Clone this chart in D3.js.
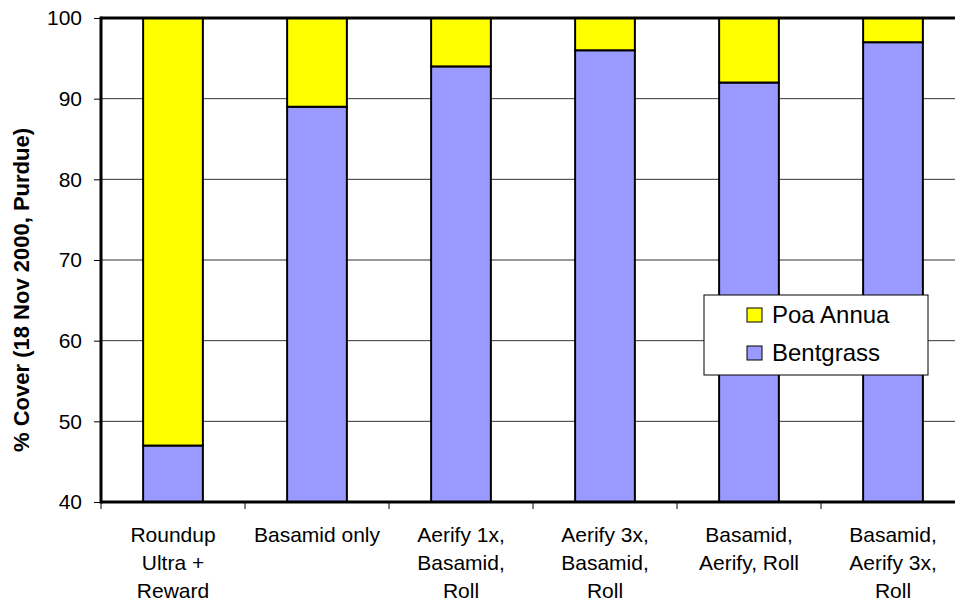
<!DOCTYPE html>
<html>
<head>
<meta charset="utf-8">
<script src="https://cdn.jsdelivr.net/npm/d3@7"></script>
<style>
  html, body { margin: 0; padding: 0; background: #fff; }
  svg { display: block; font-family: Arial, "Liberation Sans", sans-serif; }
</style>
</head>
<body>
<svg id="chart" width="955" height="603"></svg>
<script>
// Treatments and % cover by species
const categories = [
  ["Roundup", "Ultra +", "Reward"],
  ["Basamid only"],
  ["Aerify 1x,", "Basamid,", "Roll"],
  ["Aerify 3x,", "Basamid,", "Roll"],
  ["Basamid,", "Aerify, Roll"],
  ["Basamid,", "Aerify 3x,", "Roll"]
];
const bentgrass = [47, 89, 94, 96, 92, 97];
const poaAnnua = [53, 11, 6, 4, 8, 3];
const yTicks = [40, 50, 60, 70, 80, 90, 100];

const seriesNames = ["Bentgrass", "Poa Annua"];
const colors = { "Bentgrass": "#9999ff", "Poa Annua": "#ffff00" };

const svg = d3.select("#chart");
const margin = { left: 101, top: 18, right: -10, bottom: 101 };
const W = 955, H = 603;
const x0 = margin.left, x1 = W - margin.right;
const y0 = H - margin.bottom, y1 = margin.top;

const x = d3.scaleBand().domain(d3.range(categories.length)).range([x0, x1]).paddingInner(0).paddingOuter(0);
const y = d3.scaleLinear().domain([40, 100]).range([y0, y1]);

// Gridlines
svg.append("g").selectAll("line").data(yTicks.filter(t => t > 40 && t < 100)).join("line")
  .attr("x1", x0).attr("x2", x1)
  .attr("y1", d => y(d)).attr("y2", d => y(d))
  .attr("stroke", "#333").attr("stroke-width", 1);

// Stacked bars
const rows = categories.map((c, i) => ({ i, "Bentgrass": bentgrass[i], "Poa Annua": poaAnnua[i] }));
const stacked = d3.stack().keys(seriesNames)(rows);
const barW = x.bandwidth() * 0.415;

svg.append("g").selectAll("g").data(stacked).join("g")
  .attr("fill", d => colors[d.key])
  .selectAll("rect").data(d => d).join("rect")
  .attr("x", d => x(d.data.i) + (x.bandwidth() - barW) / 2)
  .attr("width", barW)
  .attr("y", d => y(Math.min(d[1], 100)))
  .attr("height", d => y(Math.max(d[0], 40)) - y(Math.min(d[1], 100)))
  .attr("stroke", "#000").attr("stroke-width", 2);

// Plot frame (top and bottom edges, left axis)
svg.append("line").attr("x1", x0).attr("x2", x1).attr("y1", y1).attr("y2", y1)
  .attr("stroke", "#000").attr("stroke-width", 3);
svg.append("line").attr("x1", x0).attr("x2", x1).attr("y1", y0).attr("y2", y0)
  .attr("stroke", "#000").attr("stroke-width", 3);
svg.append("line").attr("x1", x0).attr("x2", x0).attr("y1", y1 - 1.5).attr("y2", y0 + 1.5)
  .attr("stroke", "#000").attr("stroke-width", 3);

// Y axis
const yAxis = svg.append("g").attr("transform", `translate(${x0},0)`)
  .call(d3.axisLeft(y).tickValues(yTicks).tickSize(7).tickPadding(12).tickFormat(d3.format("d")));
yAxis.select(".domain").remove();
yAxis.selectAll("line").attr("stroke", "#000");
yAxis.selectAll("text").attr("font-size", 21).attr("fill", "#000")
  .attr("font-family", "Arial, 'Liberation Sans', sans-serif");

// X axis ticks at band boundaries
svg.append("g").selectAll("line").data(d3.range(categories.length + 1)).join("line")
  .attr("x1", d => x0 + d * x.step()).attr("x2", d => x0 + d * x.step())
  .attr("y1", y0).attr("y2", y0 + 7)
  .attr("stroke", "#000").attr("stroke-width", 1);

// X category labels
const xl = svg.append("g").selectAll("text").data(categories).join("text")
  .attr("x", (d, i) => x(i) + x.bandwidth() / 2)
  .attr("y", 542)
  .attr("text-anchor", "middle")
  .attr("font-size", 21).attr("fill", "#000");
xl.selectAll("tspan").data(d => d).join("tspan")
  .attr("x", function() { return this.parentNode.getAttribute("x"); })
  .attr("dy", (d, i) => i === 0 ? 0 : 28)
  .text(d => d);

// Y axis title
svg.append("text")
  .attr("transform", "translate(29,290) rotate(-90)")
  .attr("text-anchor", "middle")
  .attr("font-size", 22).attr("font-weight", "bold")
  .text("% Cover (18 Nov 2000, Purdue)");

// Legend
const lg = svg.append("g").attr("transform", "translate(704,295)");
lg.append("rect").attr("width", 224).attr("height", 80)
  .attr("fill", "#fff").attr("stroke", "#000").attr("stroke-width", 1);
const legendItems = ["Poa Annua", "Bentgrass"];
legendItems.forEach((k, i) => {
  const g = lg.append("g").attr("transform", `translate(43,${13 + i * 38})`);
  g.append("rect").attr("width", 15).attr("height", 14)
    .attr("fill", colors[k]).attr("stroke", "#000").attr("stroke-width", 1);
  g.append("text").attr("x", 25).attr("y", 7).attr("dy", "0.35em")
    .attr("font-size", 24).text(k);
});
</script>
</body>
</html>
